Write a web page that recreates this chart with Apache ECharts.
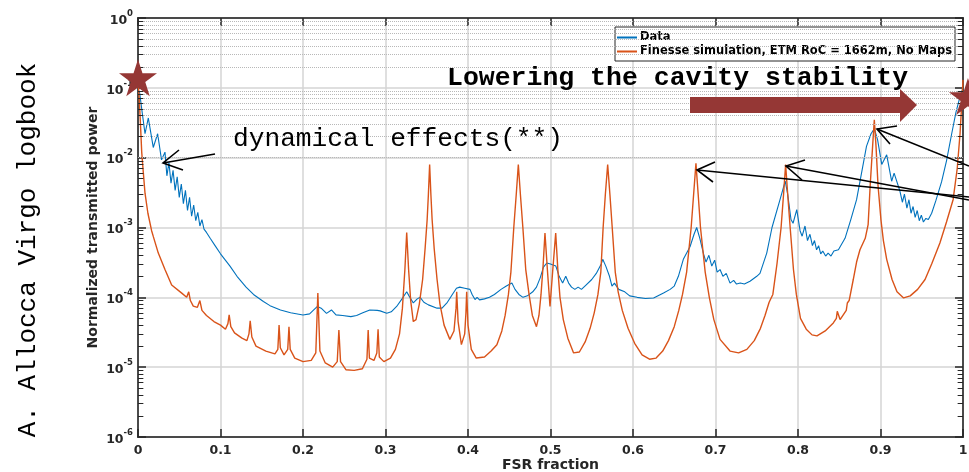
<!DOCTYPE html>
<html><head><meta charset="utf-8">
<script src="https://cdn.jsdelivr.net/npm/echarts@6/dist/echarts.min.js"></script>
<style>html,body{margin:0;padding:0;background:#fff}#c{width:969px;height:472px}</style>
</head><body><div id="c"></div>
<script>
const xTickLabels = ['0','0.1','0.2','0.3','0.4','0.5','0.6','0.7','0.8','0.9','1'];
const yExponents = [-6,-5,-4,-3,-2,-1,0];
const minorMultipliers = [2,3,4,5,6,7,8,9];
const legendNames = ['Data', 'Finesse simulation, ETM RoC = 1662m, No Maps'];

// Measured data (FSR fraction, normalized transmitted power)
const dataPoints = [
[0,0.095],[0.002,0.085],[0.0045,0.05],[0.0085,0.022],[0.0125,0.037],[0.0185,0.014],[0.0238,0.022],[0.0285,0.0093],[0.0327,0.012],[0.035,0.0055],
[0.0375,0.0085],[0.04,0.0043],[0.0425,0.0066],[0.045,0.0034],[0.0475,0.0053],[0.05,0.0027],[0.0525,0.0042],[0.055,0.0022],[0.0575,0.0034],[0.06,0.00175],
[0.0625,0.0027],[0.065,0.00145],[0.0675,0.0021],[0.07,0.00125],[0.0725,0.00165],[0.075,0.00105],[0.0775,0.0013],[0.08,0.00095],[0.083,0.00085],[0.0875,0.0007],
[0.0934,0.00055],[0.1,0.00042],[0.1115,0.00028],[0.12,0.0002],[0.131,0.00014],[0.14,0.00011],[0.152,0.000087],[0.16,0.000076],[0.1727,0.000066],[0.185,0.00006],
[0.2,0.000056],[0.208,0.000058],[0.213,0.000066],[0.2175,0.000074],[0.222,0.00007],[0.2285,0.000059],[0.2345,0.000066],[0.24,0.000056],[0.248,0.000055],[0.258,0.000053],
[0.265,0.000055],[0.2725,0.00006],[0.281,0.000066],[0.29,0.000065],[0.2935,0.000064],[0.3015,0.000059],[0.307,0.000062],[0.3135,0.000074],[0.32,0.000095],[0.3257,0.00012],
[0.3285,0.000105],[0.3337,0.000083],[0.3385,0.000095],[0.342,0.0001],[0.3465,0.000085],[0.352,0.000078],[0.3625,0.00007],[0.3685,0.00007],[0.375,0.000085],[0.381,0.00011],
[0.386,0.000135],[0.39,0.00014],[0.396,0.000135],[0.4024,0.00013],[0.405,0.00011],[0.4085,0.000093],[0.411,0.0001],[0.414,0.000092],[0.42,0.000095],[0.426,0.0001],
[0.432,0.00011],[0.44,0.00013],[0.4465,0.000145],[0.4532,0.00016],[0.457,0.00013],[0.4617,0.00011],[0.4667,0.0001],[0.472,0.000105],[0.4785,0.00012],[0.483,0.00014],
[0.4875,0.00019],[0.4915,0.00027],[0.4955,0.00031],[0.5,0.0003],[0.503,0.00029],[0.5065,0.00028],[0.5105,0.0002],[0.5147,0.00016],[0.5185,0.0002],[0.522,0.00016],
[0.5255,0.00014],[0.5295,0.00013],[0.5335,0.00014],[0.5375,0.00013],[0.543,0.00015],[0.55,0.00018],[0.5555,0.00022],[0.5615,0.0003],[0.5633,0.00035],[0.567,0.00028],
[0.5715,0.0002],[0.5745,0.000145],[0.5775,0.00016],[0.5827,0.00013],[0.59,0.00012],[0.596,0.000105],[0.605,0.0001],[0.615,0.000096],[0.625,0.000098],[0.637,0.000115],
[0.645,0.00013],[0.65,0.000145],[0.655,0.0002],[0.661,0.00035],[0.6691,0.00053],[0.674,0.0008],[0.6772,0.001],[0.681,0.0007],[0.6855,0.00042],[0.6885,0.00032],
[0.692,0.0004],[0.6955,0.00028],[0.699,0.00034],[0.702,0.00023],[0.7055,0.00025],[0.709,0.0002],[0.713,0.00022],[0.7176,0.00016],[0.722,0.000175],[0.7255,0.000155],
[0.73,0.00016],[0.735,0.000155],[0.7418,0.00017],[0.75,0.0002],[0.7539,0.00022],[0.7621,0.00043],[0.7685,0.001],[0.7782,0.0025],[0.7845,0.0046],[0.7875,0.003],
[0.7915,0.0013],[0.794,0.00115],[0.7985,0.0018],[0.8025,0.0009],[0.805,0.00075],[0.8085,0.00105],[0.8115,0.00065],[0.8145,0.0008],[0.8175,0.00055],[0.82,0.00065],
[0.8225,0.00048],[0.825,0.00055],[0.8275,0.00042],[0.83,0.00046],[0.8335,0.00039],[0.8365,0.00043],[0.84,0.00039],[0.8435,0.00046],[0.849,0.00048],[0.857,0.0007],
[0.864,0.0013],[0.871,0.0025],[0.877,0.006],[0.883,0.0145],[0.8885,0.022],[0.8925,0.026],[0.8965,0.018],[0.9015,0.008],[0.9075,0.011],[0.9135,0.0046],
[0.9165,0.006],[0.9236,0.0033],[0.9265,0.0023],[0.929,0.003],[0.932,0.0019],[0.9345,0.0025],[0.937,0.0016],[0.9395,0.002],[0.942,0.0014],[0.9445,0.00175],
[0.947,0.00125],[0.9495,0.0015],[0.952,0.0012],[0.955,0.00135],[0.958,0.0013],[0.962,0.0016],[0.967,0.0024],[0.974,0.0045],[0.98,0.009],[0.9863,0.022],
[0.9915,0.045],[0.9964,0.075],[1,0.1]
];

// Finesse simulation (FSR fraction, normalized transmitted power)
const simPoints = [
[0,0.13],[0.0015,0.07],[0.003,0.03],[0.0045,0.012],[0.0065,0.006],[0.0085,0.0031],[0.012,0.0016],[0.0165,0.0009],[0.0186,0.00074],[0.0246,0.00043],
[0.0327,0.00025],[0.0408,0.00015],[0.053,0.000115],[0.059,0.0001],[0.0615,0.00012],[0.0635,0.00009],[0.067,0.000075],[0.072,0.000072],[0.075,0.00009],[0.0775,0.000065],
[0.083,0.000055],[0.092,0.000045],[0.1,0.00004],[0.106,0.000035],[0.109,0.000042],[0.1105,0.000056],[0.1125,0.000038],[0.117,0.000031],[0.126,0.000026],[0.132,0.000024],
[0.1345,0.00003],[0.136,0.000046],[0.138,0.000027],[0.143,0.00002],[0.155,0.000017],[0.166,0.0000155],[0.1695,0.000018],[0.171,0.00004],[0.1725,0.000019],[0.177,0.000015],
[0.1815,0.000018],[0.183,0.000038],[0.1845,0.000018],[0.19,0.0000135],[0.2,0.000012],[0.21,0.0000125],[0.2155,0.000016],[0.218,0.000115],[0.2205,0.000017],[0.227,0.0000115],
[0.236,0.00001],[0.2415,0.000012],[0.2435,0.000034],[0.2455,0.000012],[0.252,0.0000092],[0.262,0.000009],[0.272,0.0000095],[0.2775,0.000013],[0.279,0.000034],[0.2805,0.0000135],
[0.286,0.0000125],[0.2895,0.000016],[0.291,0.000035],[0.2925,0.000014],[0.298,0.000012],[0.306,0.0000135],[0.312,0.000018],[0.317,0.00003],[0.3205,0.00007],[0.3235,0.00025],
[0.3257,0.00085],[0.328,0.00025],[0.3305,0.00009],[0.3337,0.000045],[0.337,0.000048],[0.341,0.00008],[0.345,0.00018],[0.348,0.0005],[0.3505,0.0013],[0.352,0.003],
[0.3535,0.008],[0.355,0.003],[0.3565,0.0013],[0.359,0.0005],[0.3625,0.00018],[0.366,0.00008],[0.371,0.00004],[0.378,0.000025],[0.383,0.000033],[0.3855,0.00007],
[0.3863,0.00012],[0.388,0.000045],[0.392,0.000021],[0.396,0.00003],[0.3975,0.00006],[0.3984,0.00012],[0.4,0.00004],[0.404,0.000018],[0.41,0.0000135],[0.42,0.000014],
[0.428,0.000017],[0.435,0.000021],[0.441,0.000033],[0.445,0.000055],[0.449,0.00011],[0.452,0.00023],[0.4555,0.001],[0.4585,0.003],[0.461,0.008],[0.4635,0.003],
[0.4665,0.001],[0.47,0.00025],[0.474,0.00011],[0.478,0.000055],[0.483,0.000038],[0.486,0.000055],[0.4885,0.00011],[0.491,0.00028],[0.4933,0.00083],[0.4962,0.00025],
[0.4994,0.000074],[0.5028,0.00025],[0.5063,0.00083],[0.5088,0.00026],[0.5115,0.0001],[0.5155,0.000048],[0.521,0.000026],[0.528,0.000016],[0.535,0.0000165],[0.542,0.000023],
[0.548,0.000036],[0.553,0.00006],[0.5575,0.00011],[0.561,0.00023],[0.5638,0.001],[0.5665,0.003],[0.5693,0.008],[0.572,0.003],[0.5748,0.001],[0.5785,0.00023],
[0.582,0.00012],[0.587,0.000065],[0.594,0.000036],[0.602,0.000022],[0.611,0.000015],[0.62,0.000013],[0.628,0.0000135],[0.636,0.000017],[0.643,0.000024],[0.65,0.000038],
[0.6555,0.000065],[0.66,0.00011],[0.665,0.00023],[0.6705,0.001],[0.6735,0.003],[0.6763,0.0083],[0.679,0.003],[0.6818,0.001],[0.6875,0.00023],[0.6925,0.0001],
[0.698,0.000048],[0.7055,0.000025],[0.7176,0.000017],[0.728,0.000016],[0.738,0.000018],[0.747,0.000024],[0.7545,0.000036],[0.76,0.000055],[0.765,0.000085],[0.7695,0.00011],
[0.7745,0.0003],[0.7795,0.001],[0.7825,0.003],[0.785,0.008],[0.7875,0.003],[0.7905,0.001],[0.7945,0.00025],[0.798,0.00011],[0.803,0.00005],[0.81,0.000035],
[0.817,0.000029],[0.823,0.000028],[0.833,0.000033],[0.8428,0.000043],[0.8465,0.00005],[0.8476,0.000063],[0.851,0.000048],[0.8585,0.000065],[0.8598,0.000083],[0.862,0.00009],
[0.867,0.00018],[0.871,0.00032],[0.8751,0.00048],[0.8815,0.0007],[0.885,0.0011],[0.8875,0.004],[0.8905,0.015],[0.8925,0.035],[0.8945,0.015],[0.897,0.004],
[0.9005,0.0013],[0.9035,0.00065],[0.9075,0.00035],[0.914,0.00018],[0.92,0.00012],[0.928,0.000098],[0.936,0.000105],[0.945,0.00013],[0.954,0.00018],[0.962,0.0003],
[0.972,0.0006],[0.98,0.0012],[0.988,0.0025],[0.993,0.007],[0.9964,0.022],[0.9985,0.06],[1,0.13]
];

const starPoints = [[0, 0.14], [1.006, 0.075]];

const FONT = '"DejaVu Sans", sans-serif';
const AXIS = '#262626';
const STAR = '#953735';
const starPath = 'path://M50,0 L61.2,34.5 L97.6,34.5 L68.2,55.9 L79.4,90.5 L50,69.1 L20.6,90.5 L31.8,55.9 L2.4,34.5 L38.8,34.5 Z';

const minorValues = [];
yExponents.slice(0, -1).forEach(e => minorMultipliers.forEach(m => minorValues.push(m * Math.pow(10, e))));

const gridMarks = [];
minorValues.forEach(v => gridMarks.push({yAxis: v, lineStyle: {type: [1, 1], color: '#b8b8b8', width: 1}}));
minorValues.forEach(v => {
  gridMarks.push([{coord: [0, v], lineStyle: {type: 'solid', color: AXIS, width: 1}}, {coord: [0.0065, v]}]);
  gridMarks.push([{coord: [1, v], lineStyle: {type: 'solid', color: AXIS, width: 1}}, {coord: [0.9935, v]}]);
});

const chart = echarts.init(document.getElementById('c'), null, {renderer: 'canvas'});

const blackLine = pts => ({type: 'polyline', z: 100, shape: {points: pts}, style: {stroke: '#000', lineWidth: 1.6, fill: null}});

chart.setOption({
  animation: false,
  backgroundColor: '#fff',
  grid: {left: 138, top: 18, width: 825, height: 419, show: true, borderColor: AXIS, borderWidth: 1.5,
    backgroundColor: 'transparent', containLabel: false, outerBoundsMode: 'none'},
  legend: {
    data: legendNames, orient: 'vertical', left: 615, top: 27,
    backgroundColor: '#fff', borderColor: AXIS, borderWidth: 1, borderRadius: 0,
    padding: [4, 3, 3, 2], itemGap: 1, itemWidth: 20, itemHeight: 2, icon: 'rect',
    textStyle: {fontFamily: FONT, fontWeight: 'bold', fontSize: 11.5, color: '#000', lineHeight: 13, padding: [0, 0, 0, -2]}
  },
  xAxis: [{
    type: 'value', min: 0, max: 1, interval: 0.1, position: 'bottom',
    axisLine: {show: true, onZero: false, lineStyle: {color: AXIS, width: 1.5}},
    axisTick: {show: true, inside: true, length: 8, lineStyle: {color: AXIS, width: 1.5}},
    axisLabel: {formatter: v => xTickLabels[Math.round(v * 10)], fontFamily: FONT, fontWeight: 'bold', fontSize: 12.5, color: AXIS, margin: 7},
    splitLine: {show: true, lineStyle: {color: '#d4d4d4', width: 1.5}},
    name: 'FSR fraction', nameLocation: 'middle', nameGap: 21, nameMoveOverlap: false,
    nameTextStyle: {fontFamily: FONT, fontWeight: 'bold', fontSize: 14, color: AXIS, verticalAlign: 'top', lineHeight: 14}
  }, {
    type: 'value', min: 0, max: 1, interval: 0.1, position: 'top',
    axisLine: {show: true, onZero: false, lineStyle: {color: AXIS, width: 1.5}},
    axisTick: {show: true, inside: true, length: 8, lineStyle: {color: AXIS, width: 1.5}},
    axisLabel: {show: false}, splitLine: {show: false}
  }],
  yAxis: [{
    type: 'log', logBase: 10, min: 1e-6, max: 1, position: 'left',
    axisLine: {show: true, onZero: false, lineStyle: {color: AXIS, width: 1.5}},
    axisTick: {show: true, inside: true, length: 8, lineStyle: {color: AXIS, width: 1.5}},
    axisLabel: {
      formatter: v => '{a|10}{b|' + Math.round(Math.log10(v)) + '}',
      margin: 5,
      rich: {
        a: {fontFamily: FONT, fontWeight: 'bold', fontSize: 12.5, color: AXIS, lineHeight: 18, verticalAlign: 'bottom'},
        b: {fontFamily: FONT, fontWeight: 'bold', fontSize: 8.5, color: AXIS, lineHeight: 10, verticalAlign: 'top'}
      }
    },
    splitLine: {show: true, lineStyle: {color: '#d4d4d4', width: 1.5}},
    name: 'Normalized transmitted power', nameLocation: 'middle', nameGap: 38, nameRotate: 90, nameMoveOverlap: false,
    nameTextStyle: {fontFamily: FONT, fontWeight: 'bold', fontSize: 14, color: AXIS}
  }, {
    type: 'log', logBase: 10, min: 1e-6, max: 1, position: 'right',
    axisLine: {show: true, onZero: false, lineStyle: {color: AXIS, width: 1.5}},
    axisTick: {show: true, inside: true, length: 8, lineStyle: {color: AXIS, width: 1.5}},
    axisLabel: {show: false}, splitLine: {show: false}
  }],
  series: [{
    name: '_grid', type: 'line', data: [], z: 1, silent: true,
    markLine: {silent: true, symbol: ['none', 'none'], label: {show: false}, animation: false, data: gridMarks}
  }, {
    name: legendNames[0], type: 'line', data: dataPoints, showSymbol: false, symbol: 'none', z: 3,
    lineStyle: {color: '#0072BD', width: 1.1}, itemStyle: {color: '#0072BD'}
  }, {
    name: legendNames[1], type: 'line', data: simPoints, showSymbol: false, symbol: 'none', z: 4,
    lineStyle: {color: '#D95319', width: 1.4}, itemStyle: {color: '#D95319'}
  }, {
    name: '_stars', type: 'scatter', data: starPoints, symbol: starPath, symbolSize: [38, 37], clip: false, z: 6,
    itemStyle: {color: STAR, opacity: 1}
  }],
  graphic: [
    {type: 'text', z: 100, x: 28, y: 250, rotation: Math.PI / 2,
      style: {text: 'A. Allocca Virgo logbook', font: '26px "Liberation Mono"', fill: '#000', align: 'center', verticalAlign: 'middle'}},
    {type: 'text', z: 100, x: 447, y: 78,
      style: {text: 'Lowering the cavity stability', font: 'bold 26.5px "Liberation Mono"', fill: '#000', align: 'left', verticalAlign: 'middle'}},
    {type: 'text', z: 100, x: 233, y: 139,
      style: {text: 'dynamical effects(**)', font: '26.2px "Liberation Mono"', fill: '#000', align: 'left', verticalAlign: 'middle'}},
    {type: 'rect', z: 100, shape: {x: 690, y: 97, width: 211, height: 16}, style: {fill: STAR}},
    {type: 'polygon', z: 100, shape: {points: [[900, 89], [917, 105], [900, 122]]}, style: {fill: STAR}},
    blackLine([[215, 154], [163, 163]]),
    blackLine([[179, 150], [163, 163], [183, 170]]),
    blackLine([[969, 197], [697, 170]]),
    blackLine([[715, 162], [697, 170], [713, 182]]),
    blackLine([[969, 200], [786, 166]]),
    blackLine([[805, 160], [786, 166], [802, 180]]),
    blackLine([[969, 166], [877, 129]]),
    blackLine([[897, 126], [877, 129], [890, 144]])
  ]
});
</script></body></html>
